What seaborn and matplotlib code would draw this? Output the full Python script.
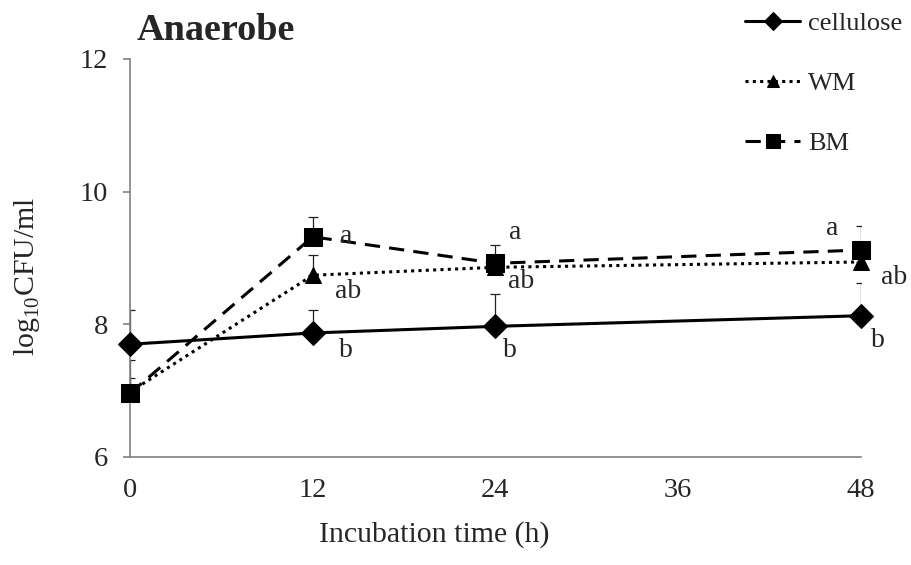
import matplotlib
matplotlib.use("Agg")
import matplotlib.pyplot as plt
import seaborn as sns
import pandas as pd
import numpy as np

hours = [0, 12, 24, 48]
cellulose = [7.70, 7.87, 7.97, 8.13]
wm = [6.98, 8.74, 8.86, 8.94]
bm = [6.96, 9.32, 8.92, 9.12]
cellulose_err = [0.51, 0.35, 0.48, 0.50]
wm_err = [0.48, 0.30, 0.15, 0.20]
bm_err = [0.23, 0.30, 0.27, 0.36]
series_names = ["cellulose", "WM", "BM"]

letters = [
    (14.2, 9.33, "a"), (14.3, 8.49, "ab"), (14.2, 7.60, "b"),
    (25.3, 9.38, "a"), (25.7, 8.64, "ab"), (24.95, 7.60, "b"),
    (46.1, 9.45, "a"), (50.2, 8.70, "ab"), (49.1, 7.76, "b"),
]

sns.set_theme(style="white")
plt.rcParams['font.family'] = ['Liberation Serif', 'DejaVu Serif']
plt.rcParams['mathtext.fontset'] = 'custom'
plt.rcParams['mathtext.rm'] = 'Liberation Serif'

fig = plt.figure(figsize=(9.12, 5.65), dpi=100)
ax = fig.add_axes([130/912, 1-457/565, (861-130)/912, (457-59)/565])

styles = {
    "cellulose": dict(marker="D", linestyle="-", ms=12),
    "WM": dict(marker="^", linestyle=(0, (1, 1.4)), ms=12),
    "BM": dict(marker="s", linestyle=(0, (5, 3)), ms=13),
}
vals = {"cellulose": cellulose, "WM": wm, "BM": bm}
errs = {"cellulose": cellulose_err, "WM": wm_err, "BM": bm_err}

for name in series_names:
    ax.errorbar(hours, vals[name], yerr=[np.zeros(4), errs[name]], fmt='none',
                ecolor='#222222', elinewidth=0.9, capsize=3.8, capthick=0.9, zorder=2)

for name in series_names:
    df = pd.DataFrame({"h": hours, "v": vals[name]})
    st = styles[name]
    sns.lineplot(data=df, x="h", y="v", ax=ax, color="black", marker=st["marker"],
                 markersize=st["ms"], markeredgecolor="black", linewidth=2.2,
                 linestyle=st["linestyle"], label=name, zorder=3, clip_on=False)

ax.set_xlim(0, 48)
ax.set_ylim(6, 12)
ax.set_xticks([0, 12, 24, 36, 48])
ax.set_yticks([6, 8, 10, 12])
for s in ["top", "right"]:
    ax.spines[s].set_visible(False)
for s in ["left", "bottom"]:
    ax.spines[s].set_color("#808080")
    ax.spines[s].set_linewidth(1.2)
ax.tick_params(axis='y', direction='out', length=5, color="#808080", width=1.2,
               labelsize=20.5, pad=11, left=True)
ax.tick_params(axis='x', length=0, labelsize=20.5, pad=15)
ax.set_xlabel("Incubation time (h)", fontsize=21.5)
ax.set_ylabel("log$_{\\mathregular{10}}$CFU/ml", fontsize=21.5)
ax.xaxis.set_label_coords(0.416, -0.162)
ax.yaxis.set_label_coords(-0.121, 0.455)

for x, y, t in letters:
    ax.text(x, y, t, fontsize=20, ha='center', va='center')

fig.text(137/912, 1-30/565, "Anaerobe", fontsize=27.5, fontweight='bold', ha='left', va='center')

ax.legend(loc='upper left', bbox_to_anchor=(745/912, 1-12/565), bbox_transform=fig.transFigure,
          frameon=False, fontsize=19, handlelength=2.1, labelspacing=1.38, markerscale=0.75,
          handletextpad=0.3, borderaxespad=0, borderpad=0)

fig.savefig("out.png", dpi=100)
